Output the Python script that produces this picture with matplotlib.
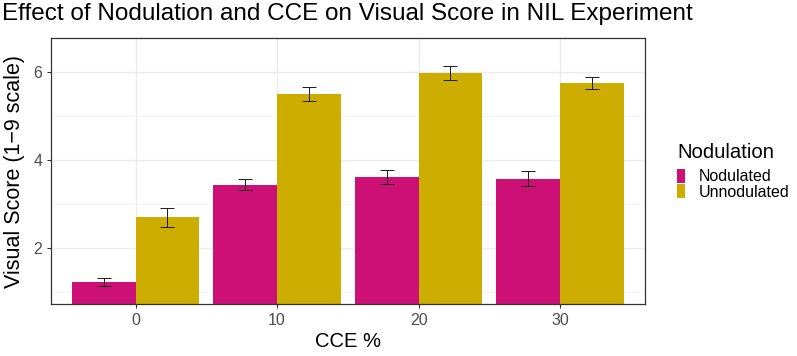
import numpy as np
import matplotlib.pyplot as plt
from matplotlib.patches import Patch

plt.rcParams['font.family'] = ['Liberation Sans', 'DejaVu Sans']

cce = ["0", "10", "20", "30"]
groups = ["Nodulated", "Unnodulated"]
colors = ["#CD1076", "#CDAD00"]
means = {
    "Nodulated": [1.23, 3.44, 3.61, 3.58],
    "Unnodulated": [2.70, 5.50, 5.97, 5.75],
}
errs = {
    "Nodulated": [0.09, 0.12, 0.16, 0.165],
    "Unnodulated": [0.21, 0.16, 0.15, 0.14],
}

fig = plt.figure(figsize=(7.97, 3.56), dpi=100)
ax = fig.add_axes([0.0636, 0.1447, 0.7457, 0.7486])

x = np.arange(len(cce))
w = 0.45
for i, g in enumerate(groups):
    pos = x + (i - 0.5) * w
    ax.bar(pos, means[g], width=w, bottom=0, color=colors[i], zorder=2)
    ax.errorbar(pos, means[g], yerr=errs[g], fmt="none", ecolor="#1a1a1a",
                elinewidth=0.7, capsize=5.2, capthick=0.7, zorder=3)

ax.set_xlim(-0.6, 3.6)
ax.set_ylim(0.727, 6.763)
ax.set_xticks(x)
ax.set_xticklabels(cce)
ax.set_yticks([2, 4, 6])
ax.set_yticks([1, 3, 5], minor=True)
ax.grid(True, which="major", color="#EBEBEB", linewidth=1.0, zorder=0)
ax.grid(True, which="minor", axis="y", color="#F2F2F2", linewidth=0.6, zorder=0)
ax.set_axisbelow(True)
for s in ax.spines.values():
    s.set_color("#333333")
    s.set_linewidth(0.9)
ax.tick_params(which="major", length=3, width=0.8, color="#333333",
               labelsize=11.5, labelcolor="#4D4D4D", pad=3)
ax.tick_params(which="minor", length=0)

ax.set_xlabel("CCE %", fontsize=14.5, labelpad=3)
ax.set_ylabel("Visual Score (1\u22129 scale)", fontsize=15.5, labelpad=6)
fig.text(0.003, 0.992, "Effect of Nodulation and CCE on Visual Score in NIL Experiment",
         fontsize=17.5, ha="left", va="top")

handles = [Patch(facecolor=c, edgecolor="none") for c in colors]
leg = fig.legend(handles, groups, title="Nodulation", loc="upper left",
                 bbox_to_anchor=(0.836, 0.63), frameon=False, fontsize=11.5,
                 title_fontsize=14.6, handlelength=0.5, handleheight=0.95,
                 handletextpad=0.85, labelspacing=0.0, borderpad=0.2)
leg._legend_box.align = "left"
leg._legend_box.sep = 5

fig.savefig("out.png", dpi=100)
